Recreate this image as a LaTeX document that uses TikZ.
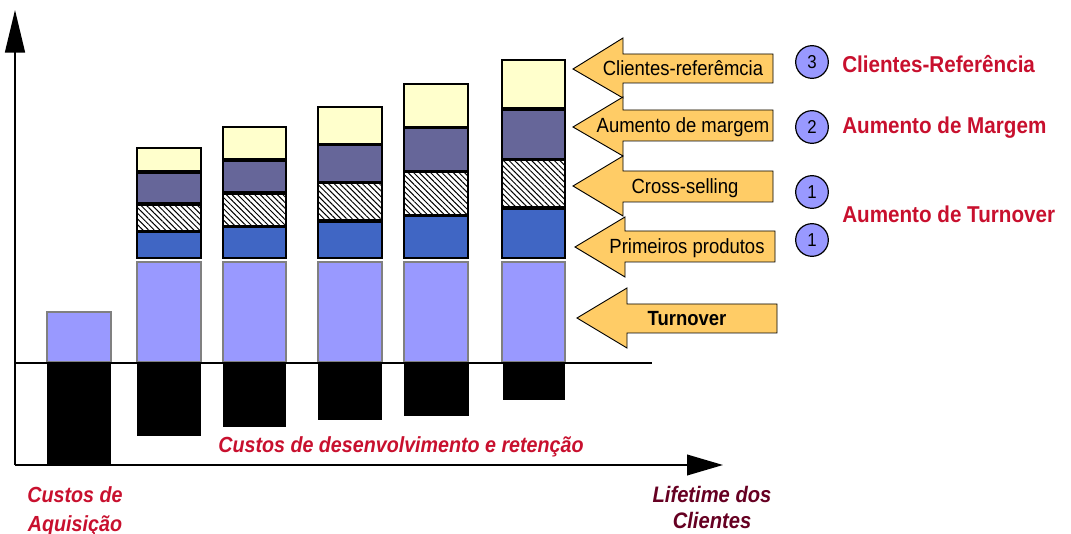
\documentclass[tikz,border=0pt]{standalone}
\usepackage{fontspec}
\setmainfont[FakeStretch=0.9]{Liberation Sans}
\usetikzlibrary{arrows.meta,patterns.meta}
\definecolor{refyellow}{RGB}{255,255,204}
\definecolor{margpurple}{RGB}{102,102,153}
\definecolor{firstblue}{RGB}{64,102,196}
\definecolor{turnlila}{RGB}{153,153,255}
\definecolor{callorange}{RGB}{255,204,102}
\definecolor{labelred}{RGB}{200,16,46}
\definecolor{lifemaroon}{RGB}{102,0,34}
\tikzset{
  segbox/.style={draw=black, line width=1.1pt},
  refbox/.style={segbox, fill=refyellow},
  margbox/.style={segbox, fill=margpurple},
  crossbox/.style={segbox, preaction={fill=white}, pattern={Lines[angle=-45,distance=3pt,line width=0.75pt]}},
  primbox/.style={segbox, fill=firstblue},
  turnbox/.style={draw=gray, line width=1pt, fill=turnlila},
  costbox/.style={fill=black},
  callout/.style={draw=black, line width=0.7pt, fill=callorange},
  axisline/.style={line width=1.3pt},
  calltext/.style={inner sep=0pt, anchor=base, font=\fontsize{15.4}{18}\selectfont},
  numcirc/.style={circle, draw=black, line width=0.9pt, fill=turnlila, minimum size=24.5pt, inner sep=0pt, font=\fontsize{14}{16}\selectfont},
  gainlabel/.style={inner sep=0pt, anchor=base west, text=labelred, font=\fontsize{17.2}{20}\selectfont\bfseries},
  costlabel/.style={inner sep=0pt, anchor=base, align=center, text=labelred, font=\fontsize{16.4}{21}\selectfont\bfseries\itshape},
  lifelabel/.style={inner sep=0pt, anchor=base, align=center, text=lifemaroon, font=\fontsize{16.8}{19.5}\selectfont\bfseries\itshape}
}
\begin{document}
\begin{tikzpicture}[x=0.75pt,y=-0.75pt]
  \useasboundingbox (0,0) rectangle (1071,534);
  \coordinate (origin) at (15,465);
  \coordinate (ytip) at (15,10);
  \coordinate (xtip) at (723,465);
  \coordinate (zeroleft) at (15,363);
  \coordinate (zeroright) at (652,363);

  \fill[costbox] (47,364) rectangle (111,465);
  \draw[turnbox] (47,312) rectangle (111,362);

  \fill[costbox] (137,364) rectangle (201,436);
  \draw[turnbox] (137,262) rectangle (201,362);
  \draw[primbox] (137,232) rectangle (201,258);
  \draw[crossbox] (137,205) rectangle (201,231);
  \draw[margbox] (137,173) rectangle (201,203);
  \draw[refbox] (137,148) rectangle (201,171);

  \fill[costbox] (223,364) rectangle (286,427);
  \draw[turnbox] (223,262) rectangle (286,362);
  \draw[primbox] (223,227) rectangle (286,258);
  \draw[crossbox] (223,194) rectangle (286,226);
  \draw[margbox] (223,161) rectangle (286,192);
  \draw[refbox] (223,127) rectangle (286,159);

  \fill[costbox] (318,364) rectangle (382,420);
  \draw[turnbox] (318,262) rectangle (382,362);
  \draw[primbox] (318,222) rectangle (382,258);
  \draw[crossbox] (318,183) rectangle (382,220);
  \draw[margbox] (318,145) rectangle (382,182);
  \draw[refbox] (318,107) rectangle (382,144);

  \fill[costbox] (404,364) rectangle (469,416);
  \draw[turnbox] (404,262) rectangle (468,362);
  \draw[primbox] (404,216) rectangle (468,258);
  \draw[crossbox] (404,172) rectangle (468,215);
  \draw[margbox] (404,128) rectangle (468,171);
  \draw[refbox] (404,84) rectangle (468,127);

  \fill[costbox] (503,364) rectangle (565,400);
  \draw[turnbox] (502,262) rectangle (565,362);
  \draw[primbox] (502,209) rectangle (565,258);
  \draw[crossbox] (502,160) rectangle (565,207);
  \draw[margbox] (502,110) rectangle (565,159);
  \draw[refbox] (502,60) rectangle (565,108);

  \draw[line width=0.8pt] (zeroleft) -- (zeroright);
  \draw[axisline, -{Triangle[length=32pt,width=15pt]}] (origin) -- (ytip);
  \draw[axisline, -{Triangle[length=27pt,width=15.5pt]}] (origin) -- (xtip);

  \draw[callout] (773,54) -- (623,54) -- (623,38) -- (573,69) -- (623,98) -- (623,83) -- (773,83) -- cycle;
  \draw[callout] (773,110) -- (623,110) -- (623,97) -- (573,127) -- (623,156) -- (623,141) -- (773,141) -- cycle;
  \draw[callout] (773,171) -- (623,171) -- (623,156) -- (573,186) -- (623,216) -- (623,202) -- (773,202) -- cycle;
  \draw[callout] (775,231) -- (625,231) -- (625,217) -- (575,247) -- (625,277) -- (625,262) -- (775,262) -- cycle;
  \draw[callout] (777,304) -- (627,304) -- (627,288) -- (577,318) -- (627,348) -- (627,333) -- (777,333) -- cycle;

  \node[calltext] (reftext) at (683,76) {Clientes-referêmcia};
  \node[calltext] (margtext) at (683,133) {Aumento de margem};
  \node[calltext] (crosstext) at (685,194) {Cross-selling};
  \node[calltext] (primtext) at (687,254) {Primeiros produtos};
  \node[calltext, font=\fontsize{15.4}{18}\selectfont\bfseries] (turntext) at (687,326) {Turnover};

  \node[numcirc] (numref) at (812,62) {3};
  \node[numcirc] (nummarg) at (812,127) {2};
  \node[numcirc] (numcross) at (812,192) {1};
  \node[numcirc] (numprim) at (812,240) {1};

  \node[gainlabel] (gainref) at (842,73) {Clientes-Referência};
  \node[gainlabel] (gainmarg) at (842,134) {Aumento de Margem};
  \node[gainlabel] (gainturn) at (842,223) {Aumento de Turnover};

  \node[costlabel] (devcost) at (401,452) {Custos de desenvolvimento e retenção};
  \node[costlabel] (acqcost) at (75,531) {Custos de\\Aquisição};
  \node[lifelabel] (lifetime) at (712,528) {Lifetime dos\\Clientes};
\end{tikzpicture}
\end{document}
